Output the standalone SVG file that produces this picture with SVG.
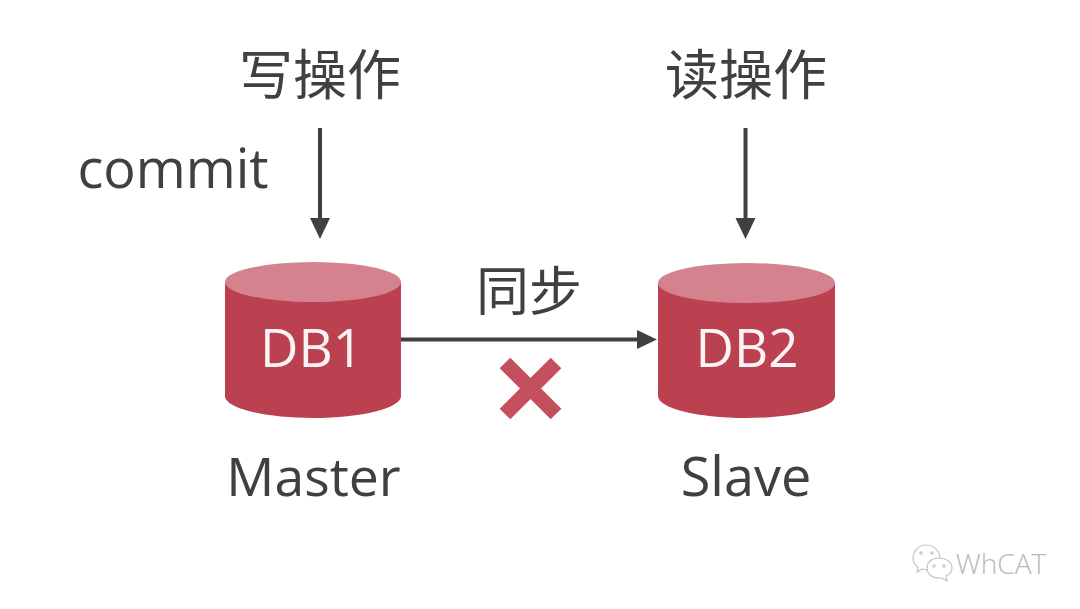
<svg xmlns="http://www.w3.org/2000/svg" width="1080" height="609" viewBox="0 0 1080 609">
<style>
.t{font-family:"Open Sans","Noto Sans","Noto Sans CJK SC",sans-serif;fill:#404040;text-anchor:middle}
.c{font-family:"Noto Sans CJK SC",sans-serif;font-weight:400;fill:#404040;text-anchor:middle}
.w{font-family:"Open Sans","Noto Sans",sans-serif;fill:#fbf3f4;text-anchor:middle;font-size:53px}
.body{fill:#bb4050}
.top{fill:#d4838e}
.ln{stroke:#404040;stroke-width:4;fill:none}
.ah{fill:#404040}
</style>
<rect width="1080" height="609" fill="#fff"/>
<g id="connectors">
<path class="ln" d="M320 128V220"/><path class="ah" d="M310 218H330L320 239Z"/>
<path class="ln" d="M745.500 128V220"/><path class="ah" d="M735.500 218H755.500L745.500 239Z"/>
<path class="ln" d="M401 339.500H638"/><path class="ah" d="M637 330V349L657 339.500Z"/>
</g>
<g id="write"><text class="c" x="320" y="95" font-size="54">写操作</text></g>
<g id="read"><text class="c" x="746" y="95" font-size="54">读操作</text></g>
<g id="commit"><text class="t" x="173" y="188" font-size="54">commit</text></g>
<g id="sync"><text class="c" x="529" y="311" font-size="53">同步</text></g>
<g id="db1">
<path class="body" d="M225 283V396C225 408 264 418 313 418S401 408 401 396V283Z"/>
<ellipse class="top" cx="313" cy="282" rx="88" ry="20"/>
<text class="w" x="311.500" y="367">DB1</text>
</g>
<g id="db2">
<path class="body" d="M658 283V396C658 408 697 418 746 418S835 408 835 396V283Z"/>
<ellipse class="top" cx="746.500" cy="283" rx="88.500" ry="20"/>
<text class="w" x="747" y="367">DB2</text>
</g>
<g id="cross"><path d="M505 363L556 414M556 363L505 414" stroke="#c4505e" stroke-width="15" fill="none"/></g>
<g id="master"><text class="t" x="313.500" y="496" font-size="53.500">Master</text></g>
<g id="slave"><text class="t" x="746" y="496" font-size="54">Slave</text></g>
<g id="watermark" fill="#fff" stroke="#c4c4c4" stroke-width="1.200">
<path d="M926 545C918 545 913 552 913 558C913 562 915 565 918 567L917 572L922 569C924 570 926 570 928 570C935 570 940 563 940 557C939 550 933 545 926 545Z"/>
<path d="M939 558C932 558 927 562 927 568C927 574 932 578 939 578L942 578L947 581L946 576C950 574 952 571 952 568C952 562 946 558 939 558Z"/>
<circle cx="921" cy="553" r="1.200"/><circle cx="932" cy="553" r="1.200"/>
<circle cx="934" cy="566" r="1.200"/><circle cx="944" cy="566" r="1.200"/>
<text x="1001" y="574" font-family="'Open Sans',sans-serif" font-weight="300" font-size="28" fill="#b8b8b8" stroke="none" text-anchor="middle">WhCAT</text>
</g>
</svg>
